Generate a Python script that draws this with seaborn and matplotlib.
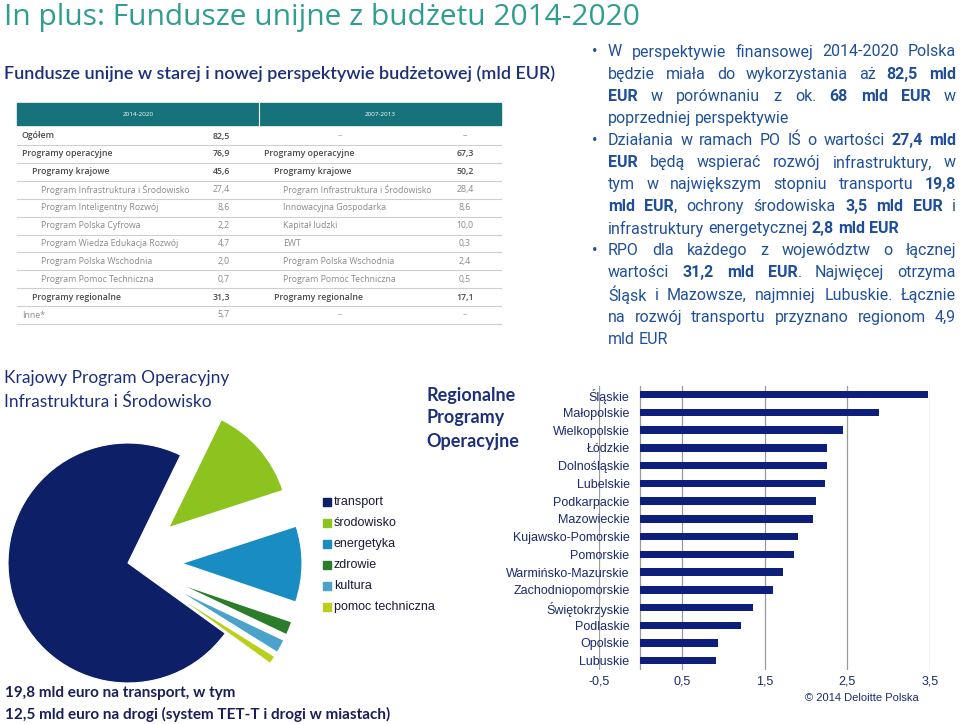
import matplotlib
matplotlib.use("Agg")
import matplotlib.pyplot as plt
import seaborn as sns
import pandas as pd
from matplotlib.patches import Rectangle

# ---------------- data ----------------
regions = ["Śląskie", "Małopolskie", "Wielkopolskie", "Łódzkie", "Dolnośląskie", "Lubelskie",
           "Podkarpackie", "Mazowieckie", "Kujawsko-Pomorskie", "Pomorskie", "Warmińsko-Mazurskie",
           "Zachodniopomorskie", "Świętokrzyskie", "Podlaskie", "Opolskie", "Lubuskie"]
region_values = [3.48, 2.88, 2.45, 2.26, 2.25, 2.23, 2.12, 2.09, 1.90, 1.86, 1.72, 1.60, 1.36, 1.21, 0.94, 0.91]
bar_ticks = [-0.5, 0.5, 1.5, 2.5, 3.5]
bar_tick_labels = ["-0,5", "0,5", "1,5", "2,5", "3,5"]

pie_labels = ["transport", "środowisko", "energetyka", "zdrowie", "kultura", "pomoc techniczna"]
pie_values = [19.8, 3.5, 2.8, 0.5, 0.5, 0.3]
pie_colors = ["#0d1f66", "#8cc31e", "#1a8cc4", "#2b7d2b", "#4ba3cb", "#b9cf1c"]

tab_labels_new = ["Ogółem", "Programy operacyjne", "Programy krajowe", "Program Infrastruktura i Środowisko",
                  "Program Inteligentny Rozwój", "Program Polska Cyfrowa", "Program Wiedza Edukacja Rozwój",
                  "Program Polska Wschodnia", "Program Pomoc Techniczna", "Programy regionalne", "Inne*"]
tab_values_new = ["82,5", "76,9", "45,6", "27,4", "8,6", "2,2", "4,7", "2,0", "0,7", "31,3", "5,7"]
tab_labels_old = ["–", "Programy operacyjne", "Programy krajowe", "Program Infrastruktura i Środowisko",
                  "Innowacyjna Gospodarka", "Kapitał ludzki", "EWT", "Program Polska Wschodnia",
                  "Program Pomoc Techniczna", "Programy regionalne", "–"]
tab_values_old = ["–", "67,3", "50,2", "28,4", "8,6", "10,0", "0,3", "2,4", "0,5", "17,1", "–"]
tab_level = [0, 0, 1, 2, 2, 2, 2, 2, 2, 1, 0]
tab_bold = [True, True, True, False, False, False, False, False, False, True, False]

paragraphs = [
    ["W perspektywie finansowej 2014-2020 Polska",
     "będzie miała do wykorzystania aż **82,5 mld**",
     "**EUR** w porównaniu z ok. **68 mld EUR** w",
     "poprzedniej perspektywie"],
    ["Działania w ramach PO IŚ o wartości **27,4 mld**",
     "**EUR** będą wspierać rozwój infrastruktury, w",
     "tym w największym stopniu transportu **19,8**",
     "**mld EUR**, ochrony środowiska **3,5 mld EUR** i",
     "infrastruktury energetycznej **2,8 mld EUR**"],
    ["RPO dla każdego z województw o łącznej",
     "wartości **31,2 mld EUR**. Najwięcej otrzyma",
     "Śląsk i Mazowsze, najmniej Lubuskie. Łącznie",
     "na rozwój transportu przyznano regionom 4,9",
     "mld EUR"],
]

# ---------------- figure ----------------
W, H = 960, 724
fig = plt.figure(figsize=(9.6, 7.24), dpi=100)
fig.patch.set_facecolor("white")
navy = "#1c2f7a"
textblue = "#1f4f9a"

def fx(px): return px / W
def fy(py): return 1 - py / H

# ---- pie ----
pax = fig.add_axes([fx(128 - 180), fy(563 + 180), 360 / W, 360 / H])
order = [0, 5, 4, 3, 2, 1]
pie_df = pd.DataFrame({"label": pie_labels, "value": pie_values, "color": pie_colors}).iloc[order]
pax.pie(pie_df["value"], colors=pie_df["color"], startangle=64, radius=1.0,
        explode=[0 if l == "transport" else 0.45 for l in pie_df["label"]],
        wedgeprops=dict(edgecolor="white", linewidth=0.8))
pax.set_xlim(-1.5, 1.5); pax.set_ylim(-1.5, 1.5); pax.axis("off")

# ---- bars ----
bax = fig.add_axes([fx(599), fy(669.6), 331 / W, (669.6 - 385.8) / H])
bar_df = pd.DataFrame({"region": regions, "value": region_values})
sns.barplot(data=bar_df, x="value", y="region", color="#0d1f7a", width=0.42, ax=bax, saturation=1)
bax.set_xlim(-0.5, 3.5); bax.set_ylim(15.5, -0.5)
bax.set_xticks(bar_ticks); bax.set_xticklabels(bar_tick_labels)
bax.set_xlabel(""); bax.set_ylabel("")
for s in bax.spines.values(): s.set_visible(False)
bax.grid(axis="x", color="#9a9a9a", linewidth=0.9); bax.set_axisbelow(True)
bax.axvline(0, color="#9a9a9a", linewidth=0.9, zorder=0)
bax.tick_params(axis="both", length=0, labelsize=9, colors="#1a2a6e", pad=4)
bax.tick_params(axis="y", pad=-22)
for t in bax.get_xticklabels() + bax.get_yticklabels():
    t.set_fontfamily("Liberation Sans"); t.set_color("#1a2a6e")
bax.set_facecolor("none")

# ---- overlay ----
ov = fig.add_axes([0, 0, 1, 1], zorder=5)
ov.set_xlim(0, W); ov.set_ylim(H, 0); ov.axis("off"); ov.patch.set_alpha(0)

ov.text(4, 17, "In plus: Fundusze unijne z budżetu 2014-2020", fontsize=21.5, color="#2f9d90",
        fontfamily="Open Sans", va="center")
ov.text(4, 74, "Fundusze unijne w starej i nowej perspektywie budżetowej (mld EUR)", fontsize=13,
        color=navy, fontfamily="Lato", fontweight="semibold", va="center")

# table
FS = 6.3
ov.add_patch(Rectangle((17, 103), 484, 22, color="#17737b", zorder=1))
ov.plot([259, 259], [103, 125], color="white", lw=0.8, zorder=2)
ov.text(138, 114, "2014-2020", color="white", fontsize=4.5, ha="center", va="center", fontfamily="Open Sans")
ov.text(380, 114, "2007-2013", color="white", fontsize=4.5, ha="center", va="center", fontfamily="Open Sans")
for i in range(len(tab_labels_new)):
    yc = 136 + i * 17.9
    col = "#4a4a4a" if tab_bold[i] else "#8a8a8a"
    fw = "semibold" if tab_bold[i] else "normal"
    ind = tab_level[i] * 9.5
    ov.text(22 + ind, yc, tab_labels_new[i], fontsize=FS, color=col, fontweight=fw, va="center", fontfamily="Open Sans")
    ov.text(230, yc, tab_values_new[i], fontsize=FS, color=col, fontweight=fw, va="center", ha="right", fontfamily="Open Sans")
    lab_old = tab_labels_old[i]
    if lab_old == "–":
        ov.text(340, yc, "–", fontsize=FS, color="#aaaaaa", va="center", ha="center")
    else:
        ov.text(264 + ind, yc, lab_old, fontsize=FS, color=col, fontweight=fw, va="center", fontfamily="Open Sans")
    ov.text(465, yc, tab_values_old[i], fontsize=FS, color=col if tab_values_old[i] != "–" else "#aaaaaa",
            fontweight=fw, va="center", ha="center", fontfamily="Open Sans")
    ov.plot([17, 501], [yc + 9, yc + 9], color="#cfcfcf", lw=0.8)

# pie titles & legend
ov.text(4, 378, "Krajowy Program Operacyjny", fontsize=12.5, color=navy, fontfamily="Lato", va="center")
ov.text(4, 402, "Infrastruktura i Środowisko", fontsize=12.5, color=navy, fontfamily="Lato", va="center")
for i, (lab, c) in enumerate(zip(pie_labels, pie_colors)):
    y = 502 + i * 21
    ov.add_patch(Rectangle((323, y - 4), 8, 8, color=c))
    ov.text(334, y, lab, fontsize=9, color="#1a1a3a", va="center", fontfamily="Liberation Sans")
ov.text(5, 693, "19,8 mld euro na transport, w tym", fontsize=11, fontweight="bold", color="#1a1f5a",
        fontfamily="Lato", va="center")
ov.text(5, 714, "12,5 mld euro na drogi (system TET-T i drogi w miastach)", fontsize=11, fontweight="bold",
        color="#1a1f5a", fontfamily="Lato", va="center")

for i, w in enumerate(["Regionalne", "Programy", "Operacyjne"]):
    ov.text(426, 395 + i * 23, w, fontsize=13, fontweight="bold", color=navy, fontfamily="Lato", va="center")
ov.text(862, 698, "© 2014 Deloitte Polska", fontsize=8, color="#1a2a6e", ha="center", va="center",
        fontfamily="Liberation Sans")

# justified right text
fig.canvas.draw()
renderer = fig.canvas.get_renderer()
def tok_width(s, bold):
    t = ov.text(0, 0, s, fontsize=11.5, fontfamily="Roboto", fontweight="bold" if bold else "normal")
    bb = t.get_window_extent(renderer)
    t.remove()
    return bb.width

def parse(line):
    words = [[]]
    for k, seg in enumerate(line.split("**")):
        b = (k % 2 == 1)
        parts = seg.split(" ")
        for j, p in enumerate(parts):
            if j > 0:
                words.append([])
            if p:
                words[-1].append((p, b))
    return [w for w in words if w]

x0, x1 = 608, 956
space = tok_width("a b", False) - tok_width("ab", False)
y = 52
for para in paragraphs:
    ov.text(592, y, "•", fontsize=11.5, color=textblue, va="center", fontfamily="Roboto")
    for li, line in enumerate(para):
        words = parse(line)
        widths = [[tok_width(p, b) for p, b in w] for w in words]
        totals = [sum(w) for w in widths]
        last = li == len(para) - 1
        gap = space if last or len(words) < 2 else (x1 - x0 - sum(totals)) / (len(words) - 1)
        x = x0
        for w, ws in zip(words, widths):
            for (p, b), wd in zip(w, ws):
                ov.text(x, y, p, fontsize=11.5, color=textblue, va="center", fontfamily="Roboto",
                        fontweight="bold" if b else "normal")
                x += wd
            x += gap
        y += 22.1

fig.savefig("out.png", dpi=100, facecolor="white")
